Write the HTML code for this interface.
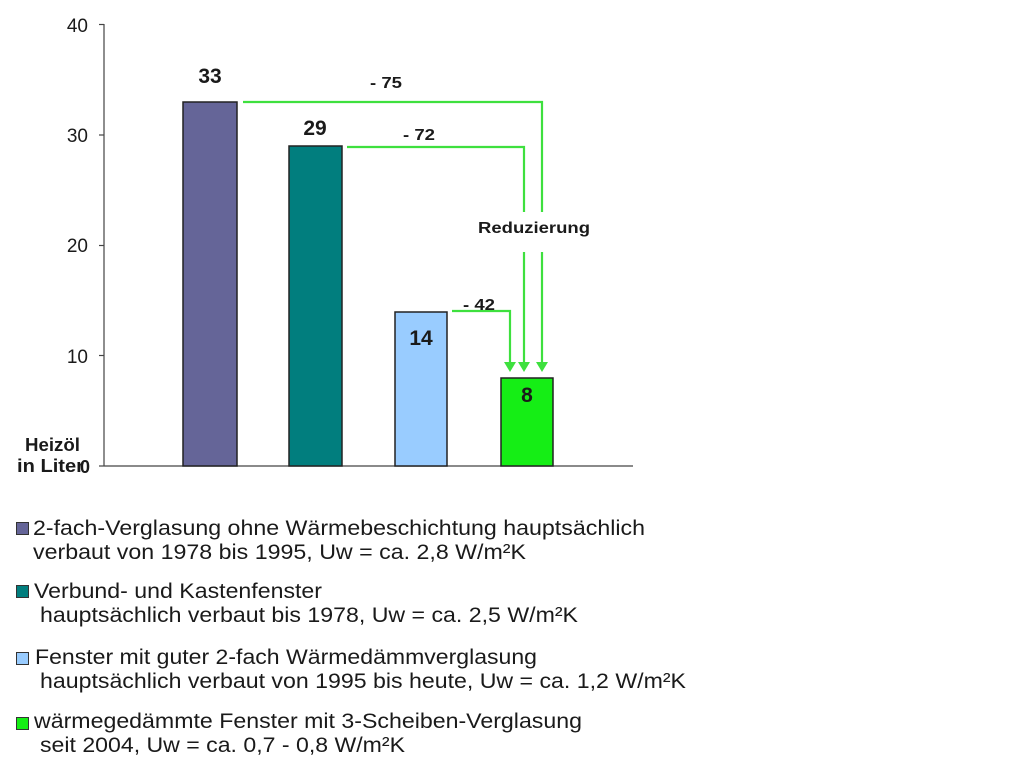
<!DOCTYPE html>
<html><head><meta charset="utf-8"><style>
html,body{margin:0;padding:0;background:#fff;}
svg{display:block;}
text{font-family:"Liberation Sans",Arial,sans-serif;fill:#1a1a1a;}
.b{font-weight:bold;}
</style></head><body>
<svg width="1024" height="768" viewBox="0 0 1024 768" xmlns="http://www.w3.org/2000/svg">
<rect width="1024" height="768" fill="#fff"/>
<!-- axes -->
<g stroke="#444" stroke-width="1.2" fill="none">
<line x1="104" y1="24" x2="104" y2="466"/>
<line x1="104" y1="466" x2="633" y2="466"/>
<line x1="99" y1="24.5" x2="104" y2="24.5"/>
<line x1="99" y1="135" x2="104" y2="135"/>
<line x1="99" y1="245.5" x2="104" y2="245.5"/>
<line x1="99" y1="355.5" x2="104" y2="355.5"/>
<line x1="99" y1="466" x2="104" y2="466"/>
</g>
<g font-size="19" text-anchor="end">
<text x="88" y="32" fill="#333">40</text>
<text x="88" y="142" fill="#333">30</text>
<text x="88" y="252" fill="#333">20</text>
<text x="88" y="363" fill="#333">10</text>
</g>
<text class="b" x="25" y="451" font-size="18" textLength="55" lengthAdjust="spacingAndGlyphs">Heizöl</text>
<text class="b" x="17" y="472" font-size="18" textLength="67" lengthAdjust="spacingAndGlyphs">in Liter</text>
<text class="b" x="80" y="473" font-size="18">0</text>
<!-- bars -->
<g stroke="#222" stroke-width="1.5">
<rect x="183" y="102" width="54" height="364" fill="#656598"/>
<rect x="289" y="146" width="53" height="320" fill="#017e7e"/>
<rect x="395" y="312" width="52" height="154" fill="#99ccff"/>
<rect x="501" y="378" width="52" height="88" fill="#15ee15"/>
</g>
<!-- values -->
<g class="b" font-size="21" font-weight="bold" text-anchor="middle">
<text x="210" y="83">33</text>
<text x="315" y="135">29</text>
<text x="421" y="345">14</text>
<text x="527" y="402">8</text>
</g>
<!-- green arrows -->
<g stroke="#3ee03e" stroke-width="2.2" fill="none">
<polyline points="243,102 542,102 542,212"/>
<polyline points="347,147 524,147 524,212"/>
<line x1="542" y1="252" x2="542" y2="364"/>
<line x1="524" y1="252" x2="524" y2="364"/>
<polyline points="452,311 510,311 510,364"/>
</g>
<g fill="#3ee03e">
<polygon points="504,362 516,362 510,372"/>
<polygon points="518,362 530,362 524,372"/>
<polygon points="536,362 548,362 542,372"/>
</g>
<g font-size="16" font-weight="bold">
<text x="370" y="88" textLength="32" lengthAdjust="spacingAndGlyphs">- 75</text>
<text x="403" y="140" textLength="32" lengthAdjust="spacingAndGlyphs">- 72</text>
<text x="463" y="310" textLength="32" lengthAdjust="spacingAndGlyphs">- 42</text>
<text x="478" y="233" textLength="112" lengthAdjust="spacingAndGlyphs">Reduzierung</text>
</g>
<!-- legend -->
<g stroke="#333" stroke-width="1">
<rect x="16.5" y="522.5" width="12" height="12" fill="#656598"/>
<rect x="16.5" y="585.5" width="12" height="12" fill="#017e7e"/>
<rect x="16.5" y="652.5" width="12" height="12" fill="#99ccff"/>
<rect x="16.5" y="717.5" width="12" height="12" fill="#15ee15"/>
</g>
<g font-size="21">
<text x="33" y="535" textLength="612" lengthAdjust="spacingAndGlyphs">2-fach-Verglasung ohne Wärmebeschichtung hauptsächlich</text>
<text x="33" y="559" textLength="493" lengthAdjust="spacingAndGlyphs">verbaut von 1978 bis 1995, Uw = ca. 2,8 W/m²K</text>
<text x="34" y="598" textLength="288" lengthAdjust="spacingAndGlyphs">Verbund- und Kastenfenster</text>
<text x="40" y="622" textLength="538" lengthAdjust="spacingAndGlyphs">hauptsächlich verbaut bis 1978, Uw = ca. 2,5 W/m²K</text>
<text x="35" y="664" textLength="502" lengthAdjust="spacingAndGlyphs">Fenster mit guter 2-fach Wärmedämmverglasung</text>
<text x="40" y="688" textLength="646" lengthAdjust="spacingAndGlyphs">hauptsächlich verbaut von 1995 bis heute, Uw = ca. 1,2 W/m²K</text>
<text x="34" y="728" textLength="548" lengthAdjust="spacingAndGlyphs">wärmegedämmte Fenster mit 3-Scheiben-Verglasung</text>
<text x="40" y="752" textLength="365" lengthAdjust="spacingAndGlyphs">seit 2004, Uw = ca. 0,7 - 0,8 W/m²K</text>
</g>
</svg>
</body></html>
